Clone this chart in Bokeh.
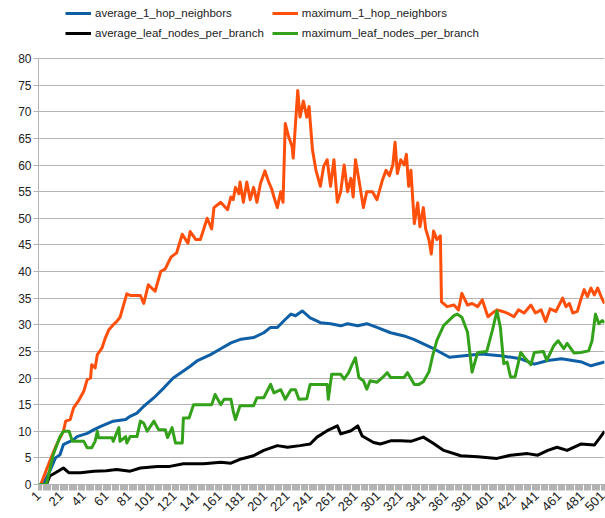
import math
from bokeh.plotting import figure
from bokeh.models import Range1d, FixedTicker, Legend, LegendItem
from bokeh.embed import file_html
from bokeh.resources import INLINE

# ---- data ----
x_tick_labels = list(range(1, 502, 20))
y_ticks = list(range(0, 81, 5))

avg_hop_x = [1, 5, 11, 16, 20, 23, 26, 32, 35, 44, 50, 56, 67, 78, 82, 88, 94, 103, 112, 120,
             129, 135, 141, 153, 162, 171, 180, 191, 200, 206, 212, 218, 224, 228, 234, 241, 250,
             259, 268, 274, 283, 291, 300, 312, 324, 333, 350, 364, 377, 392, 409, 427, 439, 451,
             463, 481, 489, 501]
avg_hop_y = [0, 0, 2.5, 5, 5.6, 7.5, 7.8, 8.4, 9, 9.6, 10.3, 10.9, 11.9, 12.2, 12.8, 13.4, 14.7,
             16.3, 18.2, 20, 21.3, 22.2, 23.2, 24.4, 25.5, 26.6, 27.3, 27.6, 28.5, 29.5, 29.5, 30.8,
             32, 31.7, 32.6, 31.3, 30.4, 30.2, 29.8, 30.2, 29.8, 30.2, 29.5, 28.5, 27.9, 27.2, 25.5,
             23.9, 24.2, 24.5, 24.2, 23.6, 22.6, 23.3, 23.6, 23, 22.3, 23]

max_hop_x = [1, 3, 11, 17, 23, 25, 29, 32, 36, 41, 44, 47, 48, 51, 53, 57, 60, 63, 67, 70,
             73, 79, 82, 87, 91, 94, 98, 104, 109, 113, 118, 123, 128, 133, 135, 140, 144, 147, 150, 154,
             156, 162, 168, 171, 173, 175, 178, 179, 182, 185, 188, 191, 194, 197, 201, 204, 207, 209, 212, 215,
             217, 219, 222, 225, 226, 230, 232, 235, 238, 240, 243, 246, 250, 253, 256, 259, 262, 265, 268, 271,
             274, 277, 279, 281, 284, 288, 291, 296, 300, 305, 308, 311, 314, 316, 318, 321, 324, 326, 328, 330,
             333, 336, 338, 341, 343, 346, 348, 350, 353, 356, 357, 362, 368, 372, 375, 380, 384, 389, 393, 398,
             402, 406, 411, 415, 421, 425, 430, 436, 440, 445, 449, 453, 458, 464, 467, 470, 473, 477, 480, 483,
             486, 489, 492, 495, 498, 501]
max_hop_y = [0, 0, 4.4, 7.5, 10, 11.9, 12.2, 14.4, 15.6, 17.5,
             19.7, 20, 22.5, 21.9, 24.4, 25.6, 27.5, 29, 30, 30.6,
             31.4, 35.8, 35.5, 35.5, 35.5, 34, 37.5, 36.3, 40, 40.5,
             42.7, 43.5, 47, 45.3, 47.5, 46, 46, 48, 50, 48,
             52, 53, 51.6, 54, 53.5, 55.8, 54.6, 56.8, 53, 56.8,
             53.5, 55.8, 53, 56.5, 58.9, 57, 55.5, 54, 52, 55,
             53, 67.8, 65.3, 63.5, 61.3, 74, 69, 72, 69, 71,
             62.9, 59.1, 56, 59.8, 61, 56, 61, 53, 55, 60,
             55, 57.5, 54, 61, 57.3, 52, 55, 55, 53.5, 57.3,
             59, 58, 60, 64.3, 58.4, 61, 60, 62, 56, 59,
             49, 52.9, 48.4, 52, 48, 45.9, 43.3, 47.6, 46, 46.7,
             34.3, 33.4, 33.7, 32.8, 35.9, 33.7, 34, 33.4, 34.7, 31.5,
             32.2, 32.8, 32.5, 32.2, 31.5, 32.8, 32.2, 33.7, 32.2, 32.8,
             30.6, 33, 32.5, 35, 33.4, 34, 32.2, 32.5, 34.7, 36.6,
             35.3, 36.9, 35.6, 36.9, 35.3, 34]

avg_leaf_x = [1, 8, 11, 16, 23, 28, 38, 50, 61, 70, 82, 91, 106, 117, 129, 147, 162, 171, 180, 191,
              200, 212, 221, 232, 241, 247, 256, 265, 268, 277, 283, 287, 297, 303, 312, 321, 330, 341,
              350, 359, 374, 389, 406, 418, 433, 442, 451, 459, 468, 480, 492, 497, 501]
avg_leaf_y = [0, 0, 1.6, 2.2, 3.1, 2.2, 2.2, 2.5, 2.6, 2.8, 2.5, 3.1, 3.4, 3.4, 3.9, 3.9, 4.2, 4.0,
              4.8, 5.4, 6.4, 7.3, 7.0, 7.3, 7.6, 8.9, 10.1, 11.0, 9.5, 10.1, 11.0, 9.1, 7.9, 7.6, 8.2,
              8.2, 8.1, 8.9, 7.7, 6.4, 5.4, 5.2, 4.9, 5.5, 5.8, 5.5, 6.4, 7.0, 6.4, 7.6, 7.4, 8.8, 10]

max_leaf_x = [1, 8, 14, 20, 23, 28, 31, 41, 44, 48, 51, 53, 54, 66, 67, 72, 73, 78, 79, 82,
              88, 91, 94, 97, 103, 107, 113, 115, 119, 122, 128, 129, 134, 138, 154, 157, 162, 165, 171, 173,
              175, 179, 191, 194, 200, 206, 209, 215, 219, 224, 228, 231, 238, 241, 256, 257, 260, 268, 271, 275,
              278, 281, 284, 288, 291, 294, 300, 305, 309, 312, 324, 327, 333, 337, 341, 346, 349, 353, 359, 368,
              371, 375, 380, 384, 389, 397, 402, 406, 409, 412, 415, 418, 422, 427, 431, 436, 439, 447, 450, 456,
              460, 465, 468, 474, 480, 487, 490, 493, 496, 499, 501]
max_leaf_y = [0, 0, 5.6, 9, 10, 10, 8.1, 8.1, 6.9, 6.9,
              8.1, 10, 8.8, 8.8, 8.1, 10.7, 8.1, 9, 7.8, 9,
              9, 11.9, 11.5, 10, 11.9, 10.3, 10.3, 8.8, 10.7, 7.8,
              7.8, 12.5, 12.5, 15, 15, 16.9, 15, 16, 16, 13.8,
              12.2, 14.8, 14.8, 16.3, 16.3, 18.8, 17.2, 17.8, 16, 17.8,
              17.8, 16, 16.1, 18.8, 18.8, 16, 20.7, 20.7, 19.8, 21,
              22.5, 23.8, 20.1, 19.5, 17.9, 19.5, 19.2, 20.1, 21, 20.1,
              20.1, 21, 18.8, 18.8, 19.3, 21.2, 24, 27.1, 29.9, 31.7,
              32, 31.4, 28.6, 21.1, 24.8, 25, 29, 32.6, 29.5, 22.7,
              23, 20.2, 20.2, 24.8, 23.7, 22.5, 24.8, 25, 23.3, 26,
              27, 25.5, 26.5, 24.7, 24.8, 25.1, 27, 32, 30.2, 30.8,
              30.4]

series_names = ["average_1_hop_neighbors", "maximum_1_hop_neighbors",
                "average_leaf_nodes_per_branch", "maximum_leaf_nodes_per_branch"]
series_colors = ["#0f5fa6", "#ff4f0a", "#000000", "#34a11b"]

FONT = "Liberation Sans"
GRID = "#b3b3b3"
TXT = "#222222"

# y range extends above 80 only to leave room for the legend; axis/grid stop at 80
p = figure(width=605, height=518, output_backend="svg", toolbar_location=None,
           x_range=Range1d(1, 501), y_range=Range1d(0, 90.9),
           min_border_left=38, min_border_right=1, min_border_bottom=34, min_border_top=0)
p.outline_line_color = None
p.background_fill_color = "white"

renderers = []
for xs, ys, c in [(avg_hop_x, avg_hop_y, series_colors[0]),
                  (max_hop_x, max_hop_y, series_colors[1]),
                  (avg_leaf_x, avg_leaf_y, series_colors[2]),
                  (max_leaf_x, max_leaf_y, series_colors[3])]:
    r = p.line(xs, ys, line_color=c, line_width=3, line_join="round")
    renderers.append(r)

# x axis
xa = p.xaxis[0]
xa.ticker = FixedTicker(ticks=x_tick_labels, minor_ticks=list(range(1, 502)))
xa.major_tick_in = 0
xa.major_tick_out = 6
xa.minor_tick_in = 0
xa.minor_tick_out = 6
xa.major_tick_line_color = GRID
xa.minor_tick_line_color = GRID
xa.axis_line_color = GRID
xa.major_label_orientation = math.pi / 4
xa.major_label_standoff = 3
xa.major_label_text_font = FONT
xa.major_label_text_font_size = "13px"
xa.major_label_text_color = TXT

# y axis
ya = p.yaxis[0]
ya.ticker = FixedTicker(ticks=y_ticks, minor_ticks=[])
ya.bounds = (0, 80)
ya.major_tick_in = 0
ya.major_tick_out = 5
ya.major_tick_line_color = GRID
ya.axis_line_color = GRID
ya.major_label_standoff = 2
ya.major_label_text_font = FONT
ya.major_label_text_font_size = "12px"
ya.major_label_text_color = TXT

p.xgrid.visible = False
p.ygrid.grid_line_color = GRID
p.ygrid.grid_line_width = 1

items = [LegendItem(label=n, renderers=[r]) for n, r in zip(series_names, renderers)]
legend = Legend(items=items, ncols=2, orientation="horizontal",
                location=(27, 445), padding=0, margin=0, spacing=8,
                glyph_width=26, glyph_height=12, label_height=12, label_standoff=4,
                label_text_font=FONT, label_text_font_size="11.5px", label_text_color=TXT,
                border_line_alpha=0, background_fill_alpha=0)
p.add_layout(legend, "center")

open("out.html", "w").write(file_html(p, INLINE))
